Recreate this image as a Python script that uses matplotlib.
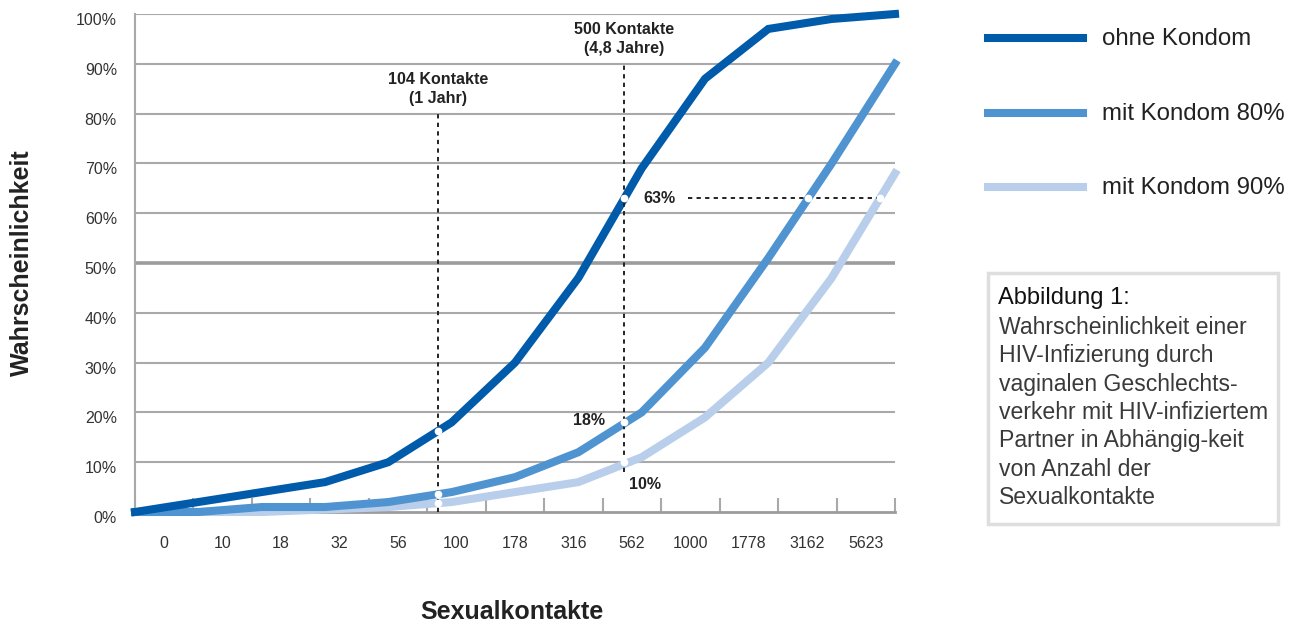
import numpy as np
import matplotlib.pyplot as plt
import matplotlib.transforms as mtransforms
from matplotlib.patches import Rectangle
from matplotlib.lines import Line2D

# Wahrscheinlichkeit einer HIV-Infektion je nach Anzahl der Sexualkontakte
kontakte = ['0', '10', '18', '32', '56', '100', '178', '316', '562',
            '1000', '1778', '3162', '5623']
ohne_kondom = [0, 2, 4, 6, 10, 18, 30, 47, 69, 87, 97, 99, 100]
mit_kondom_80 = [0, 0, 1, 1, 2, 4, 7, 12, 20, 33, 51, 70, 90]
mit_kondom_90 = [0, 0, 0, 0.5, 1, 2, 4, 6, 11, 19, 30, 47, 68]

serien = ['ohne Kondom', 'mit Kondom 80%', 'mit Kondom 90%']
farben = ['#005bab', '#4f94d0', '#b8ceeb']

# markierte Werte
pos_104 = 4.78
wert_63 = 63
wert_18 = 18
wert_10 = 10

W, H = 1296, 630
FONT = ['Liberation Sans', 'DejaVu Sans']

fig = plt.figure(figsize=(W / 100, H / 100), dpi=100)
ax = fig.add_axes([135 / W, 1 - 512 / H, 760 / W, 498 / H])

xs = np.arange(len(ohne_kondom))
n = len(kontakte)
ax.set_xlim(0, xs[-1])
ax.set_ylim(0, 100)

# Gitter
for v in range(10, 101, 10):
    if v == 50:
        ax.axhline(v, color='#9c9c9e', lw=2.6, zorder=1)
    else:
        ax.axhline(v, color='#a9a9ab', lw=1.5, zorder=1)

for y, c, z in zip([mit_kondom_90, mit_kondom_80, ohne_kondom], farben[::-1], [3, 4, 5]):
    ax.plot(xs, y, color=c, lw=5.8, solid_joinstyle='miter', zorder=z, clip_on=False)

# Markierung 500 Kontakte: dort, wo die Kurve ohne Kondom 63% erreicht
pos_500 = np.interp(wert_63, ohne_kondom, xs)
x63_80 = np.interp(wert_63, mit_kondom_80, xs)
x63_90 = np.interp(wert_63, mit_kondom_90, xs)

dot = dict(color='#222222', lw=1.4, linestyle=(0, (2.2, 2.2)), zorder=6)
ax.plot([pos_104, pos_104], [0, 80], **dot)
ax.plot([pos_500, pos_500], [wert_10 - 2, 90], **dot)
ax.plot([pos_500 + 1.0, x63_90], [wert_63, wert_63], **dot)

mk = dict(marker='o', ms=4.5, mfc='white', mec='white', ls='none', zorder=7)
ax.plot([pos_104] * 3,
        [np.interp(pos_104, xs, s) for s in (ohne_kondom, mit_kondom_80, mit_kondom_90)], **mk)
ax.plot([pos_500] * 3, [wert_63, wert_18, wert_10], **mk)
ax.plot([x63_80, x63_90], [wert_63, wert_63], **mk)

lab = dict(family=FONT, fontweight='bold', fontsize=11.5, color='#222222', zorder=8)
ax.text(pos_500 + 0.3, wert_63, f'{wert_63}%', ha='left', va='center', **lab)
ax.text(pos_500 - 0.3, wert_18 + 0.3, f'{wert_18}%', ha='right', va='center', **lab)
ax.text(pos_500 + 0.08, wert_10 - 3, f'{wert_10}%', ha='left', va='top', **lab)
ax.text(pos_104, 81.5, '104 Kontakte\n(1 Jahr)', ha='center', va='bottom',
        linespacing=1.35, **lab)
ax.text(pos_500, 91.5, '500 Kontakte\n(4,8 Jahre)', ha='center', va='bottom',
        linespacing=1.35, **lab)

# Achsen
for s in ['top', 'right']:
    ax.spines[s].set_visible(False)
ax.spines['left'].set_color('#a9a9ab')
ax.spines['left'].set_linewidth(1.5)
ax.spines['bottom'].set_color('#9c9c9e')
ax.spines['bottom'].set_linewidth(2)

ax.set_yticks(range(0, 101, 10))
ax.set_yticklabels([f'{v}%' for v in range(0, 101, 10)], family=FONT,
                   fontsize=11.5, color='#333333')
ax.tick_params(axis='y', length=0, pad=13)
off = mtransforms.ScaledTranslation(0, -5 / 100, fig.dpi_scale_trans)
for t in ax.get_yticklabels():
    t.set_transform(t.get_transform() + off)

bin_w = xs[-1] / n
ax.set_xticks([i * bin_w for i in range(n + 1)])
ax.set_xticklabels([])
ax.tick_params(axis='x', which='major', direction='in', length=10, width=1.5,
               color='#a9a9ab')
ax.set_xticks([(i + 0.5) * bin_w for i in range(n)], minor=True)
ax.set_xticklabels(kontakte, minor=True, family=FONT, fontsize=11.5, color='#333333')
ax.tick_params(axis='x', which='minor', length=0, pad=17)

fig.text(22 / W, 1 - 263 / H, 'Wahrscheinlichkeit', rotation=90, ha='center',
         va='center', family=FONT, fontweight='bold', fontsize=18, color='#222222')
fig.text(512 / W, 1 - 612 / H, 'Sexualkontakte', ha='center', va='center',
         family=FONT, fontweight='bold', fontsize=18, color='#222222')

# Legende
for i, (name, c) in enumerate(zip(serien, farben)):
    ly = 1 - (38 + i * 74.5) / H
    fig.add_artist(Line2D([988 / W, 1083 / W], [ly, ly], color=c, lw=5.8,
                          transform=fig.transFigure))
    fig.text(1102 / W, ly - 1 / H, name, ha='left', va='center', family=FONT,
             fontsize=17.3, color='#222222')

# Beschriftungskasten
fig.add_artist(Rectangle((988 / W, 1 - 524 / H), 290 / W, 251 / H,
                         transform=fig.transFigure, fill=False,
                         edgecolor='#dedede', lw=2.5))
fig.text(998 / W, 1 - 298 / H, 'Abbildung 1:', ha='left', va='center',
         family=FONT, fontsize=17, color='#111111')
zeilen = ['Wahrscheinlichkeit einer', 'HIV-Infizierung durch',
          'vaginalen Geschlechts-', 'verkehr mit HIV-infiziertem',
          'Partner in Abhängig-keit', 'von Anzahl der', 'Sexualkontakte']
for i, z in enumerate(zeilen):
    fig.text(999 / W, 1 - (327 + i * 28.5) / H, z, ha='left', va='center',
             family=FONT, fontsize=16.6, color='#3a3a3a')

fig.savefig('out.png', dpi=100)
